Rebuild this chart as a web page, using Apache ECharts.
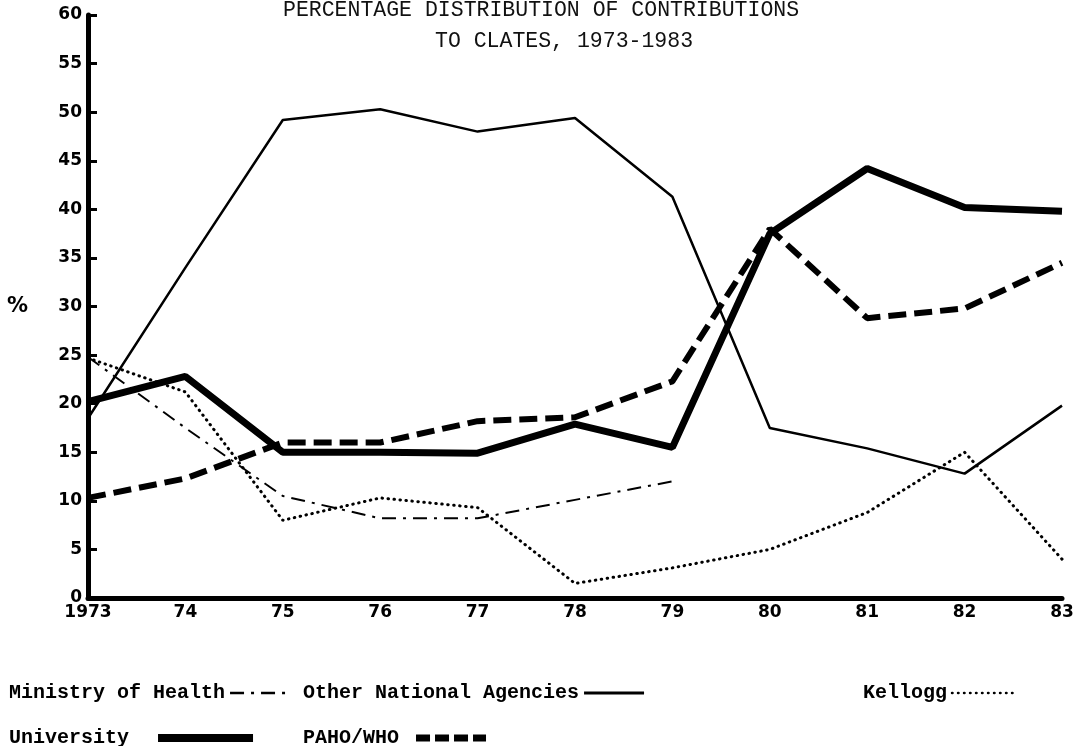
<!DOCTYPE html>
<html>
<head>
<meta charset="utf-8">
<script src="https://cdn.jsdelivr.net/npm/echarts@6/dist/echarts.min.js"></script>
<style>
  html, body { margin: 0; padding: 0; background: #fff; }
  #chart { width: 1081px; height: 746px; }
</style>
</head>
<body>
<div id="chart"></div>
<script>
// years on the x axis
var years = ['1973', '74', '75', '76', '77', '78', '79', '80', '81', '82', '83']
// percentages
var ministryHealth = [24.8, 17.5, 10.5, 8.2, 8.2, 10.1, 12.0, null, null, null, null]
var otherNational = [18.5, 34.0, 49.2, 50.3, 48.0, 49.4, 41.3, 17.5, 15.4, 12.8, 19.8]
var kellogg = [24.7, 21.2, 8.0, 10.3, 9.3, 1.5, 3.1, 5.0, 8.8, 15.0, 4.0]
var university = [20.2, 22.8, 15.0, 15.0, 14.9, 17.9, 15.5, 37.5, 44.2, 40.2, 39.8]
var pahoWho = [10.3, 12.3, 16.0, 16.0, 18.2, 18.6, 22.3, 38.0, 28.8, 29.8, 34.5]

var mono = 'Liberation Mono'
var legendText = {
  fontFamily: mono,
  fontWeight: 'bold',
  fontSize: 20,
  color: '#000'
}

var chart = echarts.init(document.getElementById('chart'))

// one legend per item so each sits where it does in the figure
// (text first, line sample after it)
function legendAt(name, left, top, w, line, pad) {
  return {
    data: [name],
    left: left,
    top: top,
    align: 'right',
    itemWidth: w,
    itemHeight: 14,
    itemGap: 0,
    selectedMode: false,
    formatter: '{name}' + (pad || ''),
    itemStyle: { opacity: 0 }, // hide the round marker, keep the line
    lineStyle: line || {},
    textStyle: legendText
  }
}

var option = {
  backgroundColor: '#fff',
  animation: false,
  title: [
    {
      text: 'PERCENTAGE DISTRIBUTION OF CONTRIBUTIONS',
      left: 278,
      top: -6,
      textStyle: { fontFamily: mono, fontWeight: 'normal', fontSize: 21.5, color: '#111' }
    },
    {
      text: 'TO CLATES, 1973-1983',
      left: 430,
      top: 25,
      textStyle: { fontFamily: mono, fontWeight: 'normal', fontSize: 21.5, color: '#111' }
    }
  ],
  legend: [
    legendAt('Ministry of Health', 4, 678, 55, { width: 2.5 }),
    legendAt('Other National Agencies', 298, 678, 60, { width: 3 }),
    legendAt('Kellogg', 858, 678, 64, { width: 2.5 }),
    legendAt('University', 4, 723, 95, { width: 8 }, '  '),
    legendAt('PAHO/WHO', 298, 723, 70, { width: 7, type: [14, 5] }, ' ')
  ],
  grid: {
    left: 88,
    right: 19,
    top: 15,
    bottom: 148
  },
  xAxis: {
    type: 'category',
    boundaryGap: false,
    data: years,
    axisLine: { lineStyle: { color: '#000', width: 5 } },
    axisTick: { show: false },
    axisLabel: {
      color: '#000',
      fontFamily: 'DejaVu Sans',
      fontWeight: 'bold',
      fontSize: 17,
      margin: 6
    },
    splitLine: { show: false }
  },
  yAxis: {
    type: 'value',
    min: 0,
    max: 60,
    interval: 5,
    name: '%',
    nameLocation: 'middle',
    nameGap: 60,
    nameRotate: 0,
    nameTextStyle: { color: '#000', fontFamily: 'DejaVu Sans', fontWeight: 'bold', fontSize: 21 },
    axisLine: { show: true, lineStyle: { color: '#000', width: 5 } },
    axisTick: { show: true, inside: true, length: 9, lineStyle: { color: '#000', width: 3 } },
    axisLabel: {
      color: '#000',
      fontFamily: 'DejaVu Sans',
      fontWeight: 'bold',
      fontSize: 17,
      margin: 6
    },
    splitLine: { show: false }
  },
  series: [
    {
      name: 'Ministry of Health',
      type: 'line',
      symbol: 'none',
      connectNulls: false,
      lineStyle: { color: '#000', width: 2, type: [14, 7, 3, 7] },
      itemStyle: { color: '#000' },
      data: ministryHealth
    },
    {
      name: 'Other National Agencies',
      type: 'line',
      symbol: 'none',
      lineStyle: { color: '#000', width: 2.5 },
      itemStyle: { color: '#000' },
      data: otherNational
    },
    {
      name: 'Kellogg',
      type: 'line',
      symbol: 'none',
      lineStyle: { color: '#000', width: 3, type: [0.5, 5.5], cap: 'round' },
      itemStyle: { color: '#000' },
      data: kellogg
    },
    {
      name: 'University',
      type: 'line',
      symbol: 'none',
      lineStyle: { color: '#000', width: 7 },
      itemStyle: { color: '#000' },
      data: university
    },
    {
      name: 'PAHO/WHO',
      type: 'line',
      symbol: 'none',
      lineStyle: { color: '#000', width: 6, type: [18, 8] },
      itemStyle: { color: '#000' },
      data: pahoWho
    }
  ]
}

chart.setOption(option)
</script>
</body>
</html>
